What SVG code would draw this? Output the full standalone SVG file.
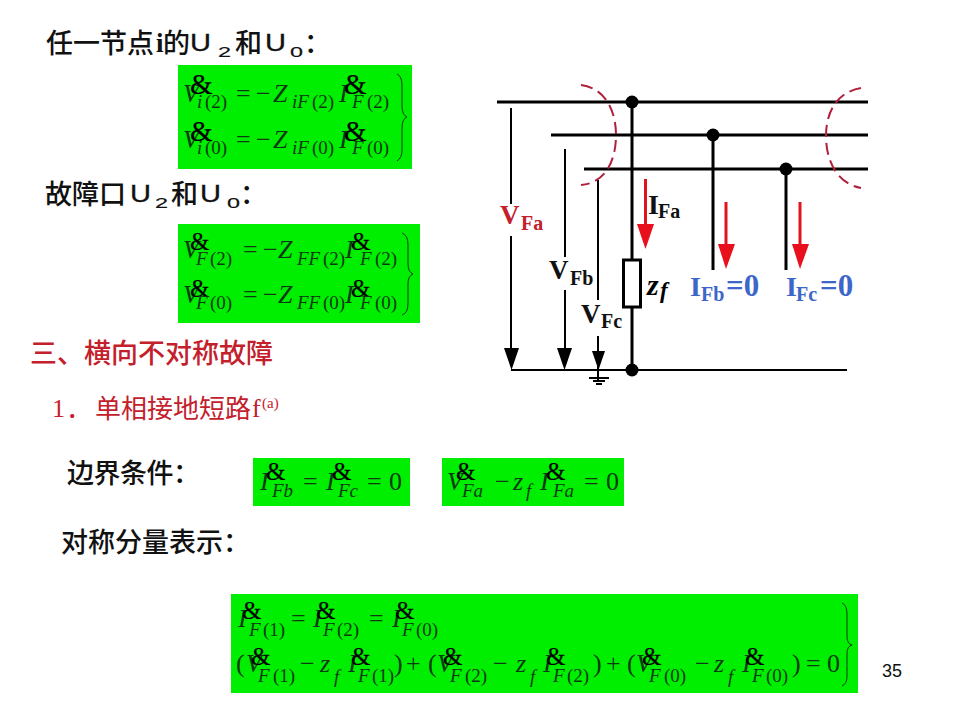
<svg xmlns="http://www.w3.org/2000/svg" width="960" height="720" viewBox="0 0 960 720">
<style>
.h{font-family:"Noto Sans CJK SC","Liberation Sans",sans-serif;font-size:27px;font-weight:500;fill:#111}
.u{font-family:"Liberation Sans",sans-serif;font-size:24px;fill:#111;stroke:#111;stroke-width:.3px}
.d{font-family:"Liberation Sans",sans-serif;font-size:15px;fill:#111;stroke:#111;stroke-width:.2px}
.r{fill:#c4202c}
.t{font-family:"Liberation Serif",serif}
.box{fill:#00ee00}
.m{font-family:"Liberation Serif",serif;fill:#0c3a10}
.v{font-size:26px;font-style:italic}
.n{font-size:26px}
.s{font-size:19px}
.si{font-style:italic}
.a{font-family:"Liberation Serif",serif;font-size:25px;fill:#000;stroke:#000;stroke-width:.2px}
.a1{font-size:29px}
.br{fill:none;stroke:#0c3a10;stroke-width:1}
.bus{stroke:#000;stroke-width:3;fill:none}
.thin{stroke:#000;stroke-width:2;fill:none}
.ra{stroke:#e0141c;stroke-width:3;fill:none}
.rh{fill:#e8101c}
.bh{fill:#000}
.dash{fill:none;stroke:#b0203c;stroke-width:2;stroke-dasharray:12 6}
.lab{font-family:"Liberation Serif",serif;font-weight:bold}
.blue{fill:#3c66c8}
</style>
<rect width="960" height="720" fill="#fff"/>

<g id="heading-node">
<text class="h" y="53" x="46">任一节点</text>
<text class="t" x="156" y="52" font-size="27" font-weight="bold" fill="#111">i</text>
<text class="h" x="163" y="53">的</text>
<text class="u" x="190" y="51" textLength="21" lengthAdjust="spacingAndGlyphs">U</text>
<text class="d" x="218" y="57" textLength="13" lengthAdjust="spacingAndGlyphs">2</text>
<text class="h" x="235" y="53">和</text>
<text class="u" x="265" y="51" textLength="21" lengthAdjust="spacingAndGlyphs">U</text>
<text class="d" x="290" y="57" textLength="13" lengthAdjust="spacingAndGlyphs">0</text>
<text class="h" x="304" y="53">：</text>
</g>
<g id="eq-node">
<rect class="box" x="178" y="65" width="234" height="104"/>
<text class="m v" x="183" y="102">V</text><text class="a a1" x="190" y="94">&amp;</text>
<text class="m s" y="108"><tspan x="197" class="si">i</tspan><tspan x="205">(2)</tspan></text>
<text class="m n" x="236" y="102">=</text><text class="m n" x="256" y="102">−</text>
<text class="m v" x="273" y="102">Z</text>
<text class="m s" y="108"><tspan x="292" class="si">iF</tspan><tspan x="312">(2)</tspan></text>
<text class="m v" x="339" y="102">I</text><text class="a a1" x="344" y="94">&amp;</text>
<text class="m s" y="108"><tspan x="352" class="si">F</tspan><tspan x="367">(2)</tspan></text>
<text class="m v" x="183" y="148">V</text><text class="a a1" x="190" y="141">&amp;</text>
<text class="m s" y="154"><tspan x="197" class="si">i</tspan><tspan x="205">(0)</tspan></text>
<text class="m n" x="236" y="148">=</text><text class="m n" x="256" y="148">−</text>
<text class="m v" x="273" y="148">Z</text>
<text class="m s" y="154"><tspan x="292" class="si">iF</tspan><tspan x="312">(0)</tspan></text>
<text class="m v" x="339" y="148">I</text><text class="a a1" x="344" y="141">&amp;</text>
<text class="m s" y="154"><tspan x="352" class="si">F</tspan><tspan x="367">(0)</tspan></text>
<path class="br" d="M397 74 Q402 76 402 86 V106 Q402 115 407 117 Q402 119 402 128 V150 Q402 158 397 161"/>
</g>

<g id="heading-port">
<text class="h" x="45" y="204">故障口</text>
<text class="u" x="130" y="202" textLength="21" lengthAdjust="spacingAndGlyphs">U</text>
<text class="d" x="155" y="208" textLength="13" lengthAdjust="spacingAndGlyphs">2</text>
<text class="h" x="171" y="204">和</text>
<text class="u" x="200" y="202" textLength="21" lengthAdjust="spacingAndGlyphs">U</text>
<text class="d" x="227" y="208" textLength="13" lengthAdjust="spacingAndGlyphs">0</text>
<text class="h" x="240" y="204">：</text>
</g>
<g id="eq-port">
<rect class="box" x="178" y="224" width="242" height="99"/>
<text class="m v" x="183" y="258">V</text><text class="a" x="190" y="250">&amp;</text>
<text class="m s" y="265"><tspan x="196" class="si">F</tspan><tspan x="210">(2)</tspan></text>
<text class="m n" x="243" y="258">=</text><text class="m n" x="263" y="258">−</text>
<text class="m v" x="278" y="258">Z</text>
<text class="m s" y="265"><tspan x="297" class="si">FF</tspan><tspan x="323">(2)</tspan></text>
<text class="m v" x="345" y="258">I</text><text class="a" x="351" y="250">&amp;</text>
<text class="m s" y="265"><tspan x="360" class="si">F</tspan><tspan x="375">(2)</tspan></text>
<text class="m v" x="183" y="303">V</text><text class="a" x="190" y="297">&amp;</text>
<text class="m s" y="309"><tspan x="196" class="si">F</tspan><tspan x="210">(0)</tspan></text>
<text class="m n" x="243" y="303">=</text><text class="m n" x="263" y="303">−</text>
<text class="m v" x="278" y="303">Z</text>
<text class="m s" y="309"><tspan x="297" class="si">FF</tspan><tspan x="323">(0)</tspan></text>
<text class="m v" x="345" y="303">I</text><text class="a" x="351" y="297">&amp;</text>
<text class="m s" y="309"><tspan x="360" class="si">F</tspan><tspan x="375">(0)</tspan></text>
<path class="br" d="M402 233 Q408 235 408 245 V264 Q408 272 413 274 Q408 276 408 284 V304 Q408 313 402 315"/>
</g>

<g id="section-title">
<text class="h r" x="30" y="363">三、横向不对称故障</text>
</g>
<g id="subsection-title">
<text class="t r" x="52" y="417" font-size="26">1</text>
<text class="h r" x="66" y="418" style="font-weight:400;font-size:26px">．</text>
<text class="h r" x="95" y="418" style="font-weight:400;font-size:26px">单相接地短路</text>
<text class="t r" x="252" y="417" font-size="26">f</text>
<text class="t r" x="262" y="408" font-size="15">(a)</text>
</g>
<g id="boundary-label">
<text class="h" x="67" y="483" style="letter-spacing:-.5px">边界条件：</text>
</g>
<g id="eq-boundary-1">
<rect class="box" x="253" y="458" width="157" height="48"/>
<text class="m v" x="260" y="490">I</text><text class="a" x="266" y="480">&amp;</text>
<text class="m s si" x="272" y="497">Fb</text>
<text class="m n" x="303" y="490">=</text>
<text class="m v" x="326" y="490">I</text><text class="a" x="332" y="480">&amp;</text>
<text class="m s si" x="338" y="497">Fc</text>
<text class="m n" x="367" y="490">=</text>
<text class="m n" x="389" y="490">0</text>
</g>
<g id="eq-boundary-2">
<rect class="box" x="442" y="458" width="182" height="48"/>
<text class="m v" x="447" y="490">V</text><text class="a" x="456" y="480">&amp;</text>
<text class="m s si" x="462" y="497">Fa</text>
<text class="m n" x="495" y="490">−</text>
<text class="m v" x="513" y="490">z</text>
<text class="m s si" x="526" y="497">f</text>
<text class="m v" x="540" y="490">I</text><text class="a" x="546" y="480">&amp;</text>
<text class="m s si" x="553" y="497">Fa</text>
<text class="m n" x="584" y="490">=</text>
<text class="m n" x="606" y="490">0</text>
</g>
<g id="symmetric-label">
<text class="h" x="61" y="552">对称分量表示：</text>
</g>
<g id="eq-symmetric">
<rect class="box" x="231" y="594" width="627" height="99"/>
<text class="m v" x="238" y="627">I</text><text class="a" x="242" y="619">&amp;</text>
<text class="m s" y="636"><tspan x="249" class="si">F</tspan><tspan x="263">(1)</tspan></text>
<text class="m n" x="291" y="627">=</text>
<text class="m v" x="313" y="627">I</text><text class="a" x="316" y="619">&amp;</text>
<text class="m s" y="636"><tspan x="323" class="si">F</tspan><tspan x="337">(2)</tspan></text>
<text class="m n" x="369" y="627">=</text>
<text class="m v" x="392" y="627">I</text><text class="a" x="395" y="619">&amp;</text>
<text class="m s" y="636"><tspan x="402" class="si">F</tspan><tspan x="416">(0)</tspan></text>

<text class="m n" x="236" y="672">(</text>
<text class="m v" x="246" y="672">V</text><text class="a" x="251" y="665">&amp;</text>
<text class="m s" y="682"><tspan x="258" class="si">F</tspan><tspan x="273">(1)</tspan></text>
<text class="m n" x="300" y="672">−</text>
<text class="m v" x="320" y="672">z</text>
<text class="m s si" x="334" y="683">f</text>
<text class="m v" x="348" y="672">I</text><text class="a" x="351" y="665">&amp;</text>
<text class="m s" y="682"><tspan x="358" class="si">F</tspan><tspan x="372">(1)</tspan></text>
<text class="m n" x="394" y="672">)</text>
<text class="m n" x="406" y="672">+</text>
<text class="m n" x="428" y="672">(</text>
<text class="m v" x="437" y="672">V</text><text class="a" x="443" y="665">&amp;</text>
<text class="m s" y="682"><tspan x="450" class="si">F</tspan><tspan x="465">(2)</tspan></text>
<text class="m n" x="493" y="672">−</text>
<text class="m v" x="516" y="672">z</text>
<text class="m s si" x="530" y="683">f</text>
<text class="m v" x="543" y="672">I</text><text class="a" x="546" y="665">&amp;</text>
<text class="m s" y="682"><tspan x="553" class="si">F</tspan><tspan x="567">(2)</tspan></text>
<text class="m n" x="593" y="672">)</text>
<text class="m n" x="606" y="672">+</text>
<text class="m n" x="627" y="672">(</text>
<text class="m v" x="636" y="672">V</text><text class="a" x="642" y="665">&amp;</text>
<text class="m s" y="682"><tspan x="649" class="si">F</tspan><tspan x="664">(0)</tspan></text>
<text class="m n" x="695" y="672">−</text>
<text class="m v" x="714" y="672">z</text>
<text class="m s si" x="728" y="683">f</text>
<text class="m v" x="742" y="672">I</text><text class="a" x="745" y="665">&amp;</text>
<text class="m s" y="682"><tspan x="752" class="si">F</tspan><tspan x="766">(0)</tspan></text>
<text class="m n" x="792" y="672">)</text>
<text class="m n" x="806" y="672">=</text>
<text class="m n" x="827" y="672">0</text>
<path class="br" d="M842 603 Q847 605 847 614 V636 Q847 644 852 645 Q847 646 847 654 V676 Q847 684 842 686"/>
</g>
<g id="page-number">
<text x="882" y="677" font-family="Liberation Sans, sans-serif" font-size="18" fill="#111">35</text>
</g>

<g id="connectors">
<line class="bus" x1="497" y1="102" x2="868" y2="102"/>
<line class="bus" x1="551" y1="135" x2="868" y2="135"/>
<line class="bus" x1="584" y1="169" x2="868" y2="169"/>
<line class="bus" x1="632" y1="102" x2="632" y2="370"/>
<line class="bus" x1="713" y1="135" x2="713" y2="270"/>
<line class="bus" x1="786" y1="169" x2="786" y2="270"/>
<line class="thin" x1="511" y1="370" x2="847" y2="370"/>
<line class="thin" x1="511" y1="108" x2="511" y2="204"/>
<line class="thin" x1="511" y1="236" x2="511" y2="350"/>
<polygon class="bh" points="504,348 519,348 511.500,370"/>
<line class="thin" x1="565" y1="149" x2="565" y2="257"/>
<line class="thin" x1="565" y1="290" x2="565" y2="350"/>
<polygon class="bh" points="557,348 572,348 564.500,370"/>
<line class="thin" x1="598" y1="180" x2="598" y2="300"/>
<line class="thin" x1="598" y1="336" x2="598" y2="380"/>
<polygon class="bh" points="592,351 605,351 598.500,370"/>
<line class="thin" x1="589" y1="378" x2="609" y2="378"/>
<line class="thin" x1="593" y1="381" x2="605" y2="381"/>
<line class="thin" x1="596" y1="384" x2="602" y2="384"/>
<line class="ra" x1="645.500" y1="179" x2="645.500" y2="226"/>
<polygon class="rh" points="637,224 654,224 645.500,249"/>
<line class="ra" x1="726" y1="202" x2="726" y2="246"/>
<polygon class="rh" points="718,244 735,244 726,269"/>
<line class="ra" x1="800" y1="202" x2="800" y2="246"/>
<polygon class="rh" points="792,244 809,244 800,269"/>
<path class="dash" d="M581 85 C606 88 616 112 616 135 C616 160 606 183 581 185"/>
<path class="dash" d="M861 88 C837 92 826 112 826 136 C826 162 838 184 861 188"/>
</g>

<g id="nodes-dots">
<circle class="bh" cx="632" cy="102" r="6.500"/>
<circle class="bh" cx="713" cy="135" r="6.500"/>
<circle class="bh" cx="786" cy="169" r="6.500"/>
<circle class="bh" cx="632" cy="370" r="6.500"/>
</g>
<g id="impedance">
<rect x="623.500" y="260" width="17" height="47" fill="#fff" stroke="#000" stroke-width="3"/>
<text class="lab" x="647" y="295" font-size="30" font-style="italic">z</text>
<text class="lab" x="660" y="298" font-size="23" font-style="italic">f</text>
</g>
<g id="label-VFa"><text class="lab" fill="#c4202c"><tspan x="500" y="224" font-size="27">V</tspan><tspan x="521" y="230" font-size="20">Fa</tspan></text></g>
<g id="label-IFa"><text class="lab" fill="#111"><tspan x="648" y="214" font-size="28">I</tspan><tspan x="658" y="218" font-size="20">Fa</tspan></text></g>
<g id="label-VFb"><text class="lab" fill="#111"><tspan x="549" y="279" font-size="27">V</tspan><tspan x="570" y="285" font-size="20">Fb</tspan></text></g>
<g id="label-VFc"><text class="lab" fill="#111"><tspan x="581" y="323" font-size="27">V</tspan><tspan x="601" y="328" font-size="20">Fc</tspan></text></g>
<g id="label-IFb"><text class="lab blue"><tspan x="690" y="296" font-size="28">I</tspan><tspan x="701" y="301" font-size="20">Fb</tspan><tspan x="726" y="296" font-size="31">=0</tspan></text></g>
<g id="label-IFc"><text class="lab blue"><tspan x="786" y="296" font-size="28">I</tspan><tspan x="796" y="301" font-size="20">Fc</tspan><tspan x="820" y="296" font-size="31">=0</tspan></text></g>
</svg>
